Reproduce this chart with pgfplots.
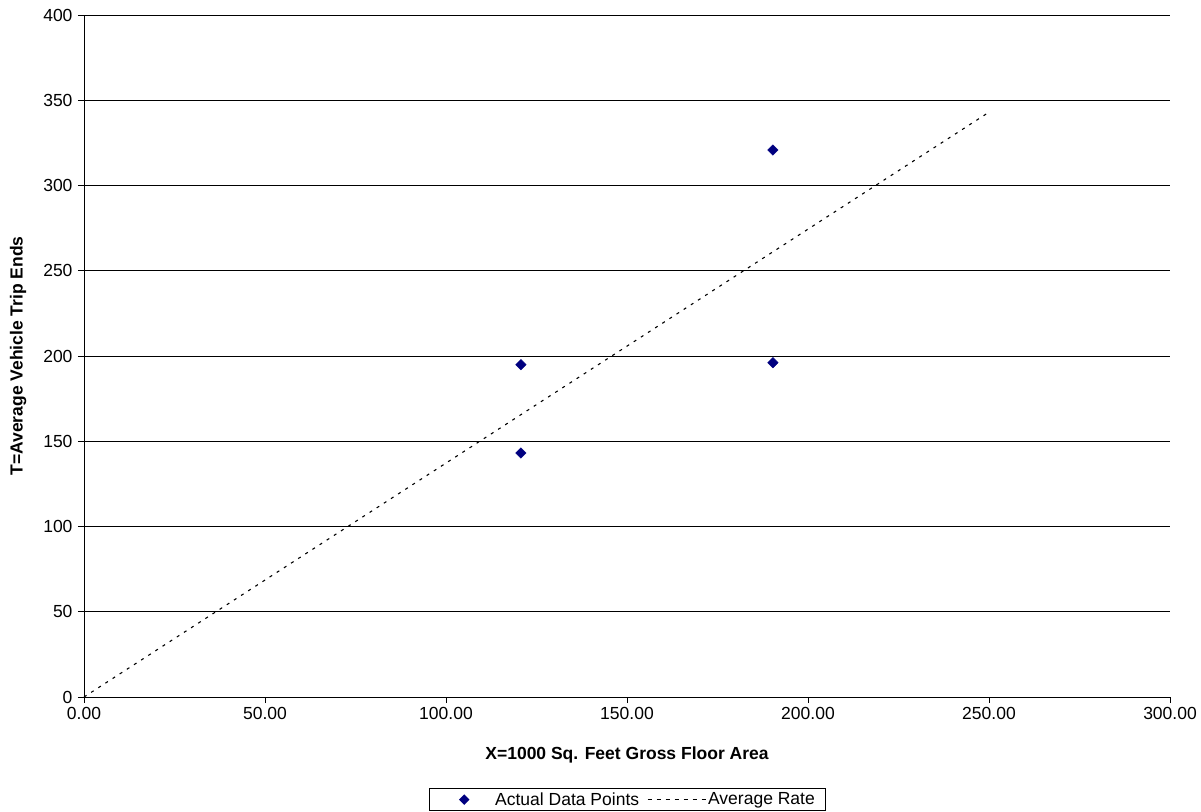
\documentclass[border=0pt]{standalone}
\usepackage{pgfplots}
\pgfplotsset{compat=1.18}
\usepackage{fontspec}
\setmainfont{Liberation Sans}
\definecolor{navy}{HTML}{000080}
\begin{document}
\begin{tikzpicture}
\begin{axis}[
  scale only axis, width=1086bp, height=682bp,
  xmin=0, xmax=300, ymin=0, ymax=400,
  axis x line*=bottom, axis y line*=left,
  axis line style={black, line width=0.8pt, -},
  xtick={0,50,...,300}, ytick={0,50,...,400},
  tick align=outside, major tick length=6bp,
  tick style={black, line width=0.8pt},
  ymajorgrids, grid style={black, line width=0.6pt},
  xticklabel style={yshift=-1bp, /pgf/number format/.cd, fixed, fixed zerofill, precision=2},
  /pgf/number format/assume math mode=true,
  ticklabel style={font=\fontsize{17.5bp}{20bp}\selectfont},
  yticklabel style={xshift=-2bp},
  xlabel={\bfseries X=1000 Sq. Feet Gross Floor Area},
  ylabel={\bfseries T=Average Vehicle Trip Ends},
  label style={font=\fontsize{17.5bp}{20bp}\selectfont},
  xlabel style={yshift=-20bp},
  ylabel style={yshift=10bp},
  legend style={at={(0.5,-115bp)}, anchor=south, yshift=1bp, legend columns=2, draw=black, line width=0.6pt,
    font=\fontsize{17.5bp}{20bp}\selectfont, inner xsep=8bp, inner ysep=2bp,
    /tikz/every even column/.append style={column sep=6bp}},
  legend cell align=left,
  clip=false,
]
\addplot[only marks, mark=square*, mark size=3.7bp, mark options={rotate=45, draw=none}, color=navy, fill=navy,
  legend image code/.code={
    \pgfpathmoveto{\pgfpoint{0bp}{0bp}}\pgfpathlineto{\pgfpoint{56bp}{0bp}}\pgfusepath{use as bounding box}
    \fill[navy, draw=none] (27bp,0) ++(-5.2bp,0) -- ++(5.2bp,5.2bp) -- ++(5.2bp,-5.2bp) -- ++(-5.2bp,-5.2bp) -- cycle;}] coordinates {
  (120.7,194.9) (120.7,143.1) (190.3,320.8) (190.3,196.1)
};
\addlegendentry{Actual Data Points}
\addplot[black, dash pattern=on 3bp off 5.5bp, line width=1.1pt,
  legend image code/.code={\draw[black, dash pattern=on 4bp off 5bp, line width=1pt] (0,0) -- (58bp,0);}] coordinates {(0,0) (250,343)};
\addlegendentry{Average Rate}
\end{axis}
\pgfresetboundingbox
\path (current axis.south west) ++(-84bp,-115bp) rectangle ++(1201bp,812bp);
\end{tikzpicture}
\end{document}
